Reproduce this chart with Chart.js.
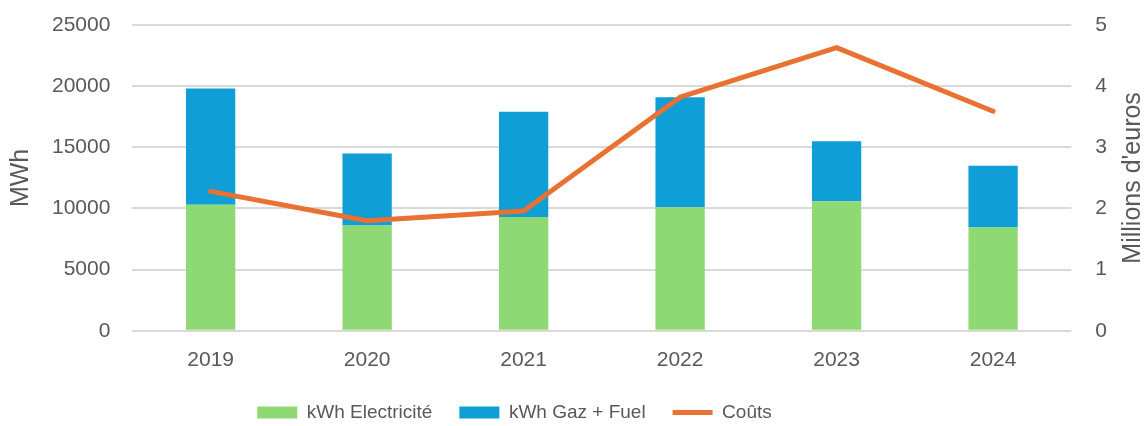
<!DOCTYPE html>
<html>
<head>
<meta charset="utf-8">
<script src="https://cdn.jsdelivr.net/npm/chart.js@4"></script>
<style>
  html, body { margin: 0; padding: 0; background: #fff; }
  #wrap { width: 1146px; height: 426px; }
</style>
</head>
<body>
<div id="wrap"><canvas id="chart"></canvas></div>
<script>
const years = ['2019', '2020', '2021', '2022', '2023', '2024'];
const electricite = [10300, 8600, 9300, 10100, 10600, 8450];
const gazFuel = [9500, 5900, 8600, 9000, 4900, 5050];
const couts = [2.28, 1.80, 1.96, 3.82, 4.63, 3.59];

const grey = '#595959';
Chart.defaults.font.family = "'Liberation Sans', Arial, sans-serif";
Chart.defaults.color = grey;

const noTopPad = scale => { scale.paddingTop = 0; };

function verticalText(c, text, x, y) {
  c.save();
  c.translate(x, y);
  c.rotate(-Math.PI / 2);
  c.font = "25px 'Liberation Sans', Arial, sans-serif";
  c.fillStyle = grey;
  c.textAlign = 'center';
  c.textBaseline = 'middle';
  c.fillText(text, 0, 0);
  c.restore();
}

// axis titles both read bottom to top, legend sits left of centre
const axisTitles = {
  id: 'axisTitles',
  afterLayout(chart) {
    const lg = chart.legend;
    lg.left -= 62;
    lg.right -= 62;
    lg.top -= 6;
    lg.bottom -= 6;
  },
  afterDraw(chart) {
    const area = chart.chartArea;
    const mid = (area.top + area.bottom) / 2;
    verticalText(chart.ctx, 'MWh', 21, mid);
    verticalText(chart.ctx, "Millions d'euros", 1133, mid);
  }
};

const ctx = document.getElementById('chart').getContext('2d');
new Chart(ctx, {
  type: 'bar',
  data: {
    labels: years,
    datasets: [
      {
        type: 'line',
        label: 'Coûts',
        data: couts,
        yAxisID: 'y1',
        borderColor: '#E97132',
        backgroundColor: '#E97132',
        borderWidth: 5,
        borderCapStyle: 'round',
        borderJoinStyle: 'round',
        pointRadius: 0,
        pointBorderWidth: 5,
        pointStyle: 'line',
        tension: 0,
        order: 0
      },
      {
        label: 'kWh Electricité',
        data: electricite,
        backgroundColor: '#8ED973',
        stack: 's',
        pointStyle: 'rect',
        barPercentage: 0.63,
        categoryPercentage: 0.5,
        order: 1
      },
      {
        label: 'kWh Gaz + Fuel',
        data: gazFuel,
        backgroundColor: '#0F9ED5',
        stack: 's',
        pointStyle: 'rect',
        barPercentage: 0.63,
        categoryPercentage: 0.5,
        order: 1
      }
    ]
  },
  options: {
    responsive: true,
    maintainAspectRatio: false,
    animation: false,
    layout: { padding: { top: 25, left: 30, right: 23, bottom: -12 } },
    scales: {
      x: {
        grid: { display: false },
        border: { display: false },
        ticks: { font: { size: 21 }, color: grey, padding: 9 }
      },
      y: {
        position: 'left',
        min: 0,
        max: 25000,
        afterFit: noTopPad,
        ticks: {
          stepSize: 5000,
          font: { size: 21 },
          color: grey,
          padding: 22,
          callback: v => String(v)
        },
        grid: { color: '#d9d9d9', lineWidth: 2, drawTicks: false },
        border: { display: false }
      },
      y1: {
        position: 'right',
        min: 0,
        max: 5,
        afterFit: noTopPad,
        ticks: { stepSize: 1, font: { size: 21 }, color: grey, padding: 16 },
        grid: { display: false },
        border: { display: false }
      }
    },
    plugins: {
      tooltip: { enabled: false },
      legend: {
        position: 'bottom',
        labels: {
          usePointStyle: true,
          pointStyleWidth: 40,
          boxHeight: 12,
          padding: 27,
          color: grey,
          font: { size: 19 },
          sort: (a, b) => {
            const order = ['kWh Electricité', 'kWh Gaz + Fuel', 'Coûts'];
            return order.indexOf(a.text) - order.indexOf(b.text);
          }
        }
      }
    }
  },
  plugins: [axisTitles]
});
</script>
</body>
</html>
